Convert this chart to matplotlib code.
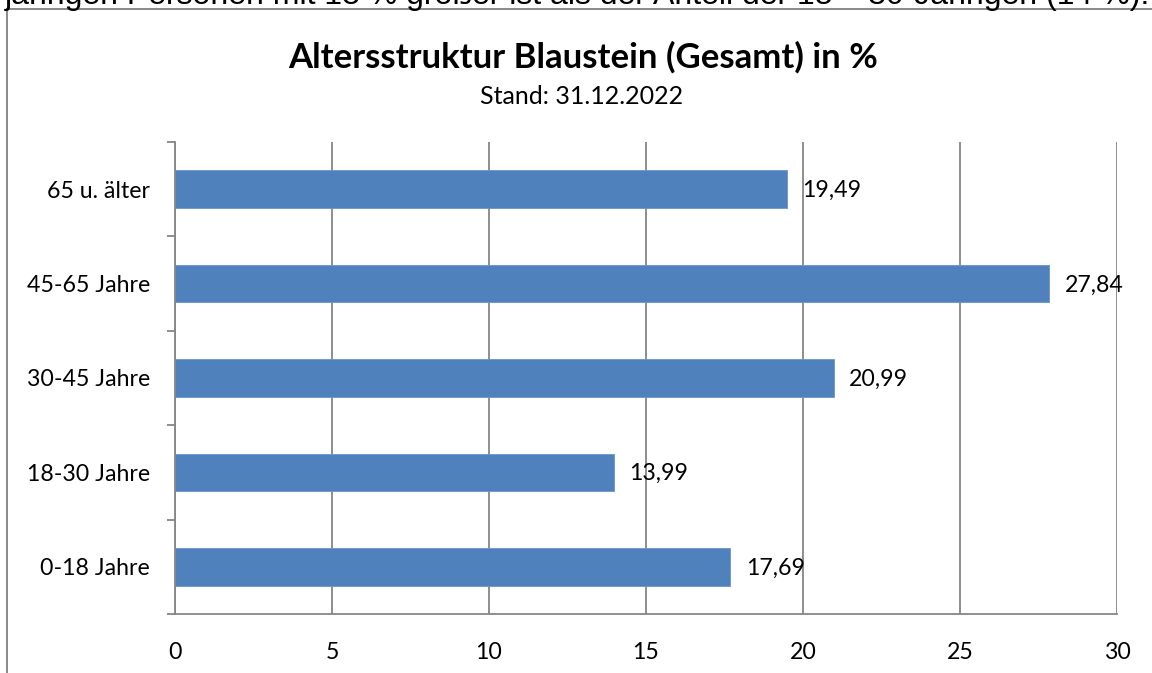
import matplotlib

matplotlib.use("Agg")
import matplotlib.pyplot as plt
from matplotlib.patches import Rectangle

# --- data ----------------------------------------------------------------------
categories = ["0-18 Jahre", "18-30 Jahre", "30-45 Jahre", "45-65 Jahre", "65 u. älter"]
values = [17.69, 13.99, 20.99, 27.84, 19.49]
value_labels = ["17,69", "13,99", "20,99", "27,84", "19,49"]
x_ticks = [0, 5, 10, 15, 20, 25, 30]

title = "Altersstruktur Blaustein (Gesamt) in %"
subtitle = "Stand: 31.12.2022"
top_text = "jährigen Personen mit 18 % größer ist als der Anteil der 18 – 30-Jährigen (14 %)."

FONT = ["Lato", "DejaVu Sans"]
BAR = "#4F81BD"
GRID = "#868686"
FS = 16.7

fig = plt.figure(figsize=(11.52, 6.73), dpi=100)
W, H = 1152, 673

# cut-off sentence from the surrounding document, only its lower part shows
fig.text(5 / W, 1 - 4 / H, top_text, family=["Liberation Sans", "DejaVu Sans"],
         fontsize=23, ha="left", va="baseline", color="black")

# chart frame (runs past the right and bottom edges of the picture)
fig.patches.append(Rectangle((7 / W, -0.1), 1.2, 1 - 9 / H + 0.1,
                             transform=fig.transFigure, fill=False,
                             edgecolor="#808080", lw=1.3))

ax = fig.add_axes([175 / W, 1 - 614 / H, (1117 - 175) / W, (614 - 142) / H])

ypos = list(range(len(categories)))
ax.barh(ypos, values, height=0.4, color=BAR, edgecolor="#6a94c9", lw=0.6, zorder=3)

for y, v, lab in zip(ypos, values, value_labels):
    ax.annotate(lab, (v, y), xytext=(11, -1), textcoords="offset points",
                va="center", ha="left", fontsize=FS, family=FONT, zorder=4)

ax.set_xlim(0, 30)
ax.set_ylim(-0.5, len(categories) - 0.5)
ax.set_xticks(x_ticks)
ax.set_xticklabels([str(t) for t in x_ticks], family=FONT, fontsize=FS)
ax.set_yticks(ypos)
ax.set_yticklabels(categories, family=FONT, fontsize=FS)
ax.tick_params(axis="y", length=0, pad=18)
ax.tick_params(axis="x", length=0, pad=20)

# category boundary tick marks on the y axis
ax.set_yticks([y - 0.5 for y in ypos] + [len(categories) - 0.5], minor=True)
ax.tick_params(axis="y", which="minor", length=6, width=1.3, color=GRID, direction="out")
ax.set_xticks(x_ticks, minor=True)
ax.tick_params(axis="x", which="minor", length=7, width=1.3, color=GRID, direction="out")

ax.grid(axis="x", which="major", color=GRID, lw=1.3, zorder=0)
ax.set_axisbelow(True)
for side in ("top", "right"):
    ax.spines[side].set_visible(False)
for side in ("left", "bottom"):
    ax.spines[side].set_color(GRID)
    ax.spines[side].set_linewidth(1.3)
    ax.spines[side].set_zorder(5)

fig.text(583 / W, 1 - 57 / H, title, family=FONT, fontsize=25, fontweight="bold",
         ha="center", va="center")
fig.text(582 / W, 1 - 97 / H, subtitle, family=FONT, fontsize=18,
         ha="center", va="center")

fig.savefig("out.png", dpi=100)
